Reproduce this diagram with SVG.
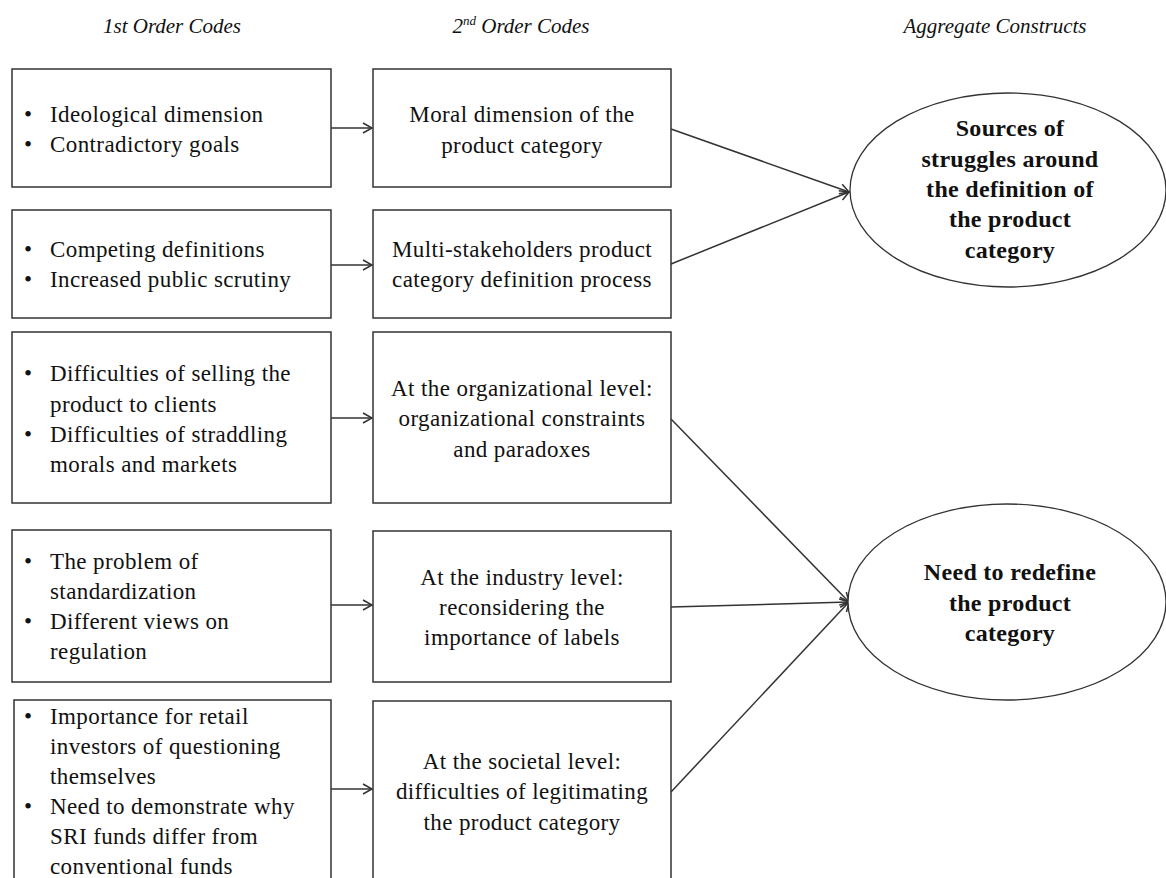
<svg xmlns="http://www.w3.org/2000/svg" width="1166" height="878" viewBox="0 0 1166 878">
<style>
.box{fill:#fff;stroke:#333;stroke-width:1.5}
.ell{fill:#fff;stroke:#333;stroke-width:1.3}
.t{font-family:"Liberation Serif","Times New Roman",serif;font-size:23px;letter-spacing:0.4px;fill:#111}
.c{text-anchor:middle}
.b{font-weight:bold;font-size:24px;letter-spacing:0.3px}
.h{font-family:"Liberation Serif","Times New Roman",serif;font-size:21px;font-style:italic;fill:#111;text-anchor:middle}
.ln{stroke:#333;stroke-width:1.5;fill:none}
</style>
<defs>
<marker id="arr" markerUnits="userSpaceOnUse" markerWidth="12" markerHeight="12" refX="10" refY="6" orient="auto">
<path d="M1,1 L10,6 L1,11" fill="none" stroke="#333" stroke-width="1.5"/>
</marker>
</defs>
<rect width="1166" height="878" fill="#fff"/>
<g id="headers">
<text class="h" x="172" y="33">1st Order Codes</text>
<text class="h" x="521" y="33">2<tspan font-size="13" dy="-8">nd</tspan><tspan dy="8"> Order Codes</tspan></text>
<text class="h" x="995" y="33">Aggregate Constructs</text>
</g>
<g id="connectors">
<line class="ln" x1="331" y1="128" x2="372" y2="128" marker-end="url(#arr)"/>
<line class="ln" x1="331" y1="265" x2="372" y2="265" marker-end="url(#arr)"/>
<line class="ln" x1="331" y1="418" x2="372" y2="418" marker-end="url(#arr)"/>
<line class="ln" x1="331" y1="605" x2="372" y2="605" marker-end="url(#arr)"/>
<line class="ln" x1="331" y1="789" x2="372" y2="789" marker-end="url(#arr)"/>
<line class="ln" x1="671" y1="129" x2="849" y2="192" marker-end="url(#arr)"/>
<line class="ln" x1="671" y1="264" x2="849" y2="192" marker-end="url(#arr)"/>
<line class="ln" x1="671" y1="419" x2="849" y2="602" marker-end="url(#arr)"/>
<line class="ln" x1="671" y1="607" x2="849" y2="602" marker-end="url(#arr)"/>
<line class="ln" x1="671" y1="792" x2="849" y2="602" marker-end="url(#arr)"/>
</g>
<g id="c1r1">
<rect class="box" x="12" y="69" width="319" height="118"/>
<text class="t" x="24" y="122">•</text><text class="t" x="50" y="122">Ideological dimension</text>
<text class="t" x="24" y="152">•</text><text class="t" x="50" y="152">Contradictory goals</text>
</g>
<g id="c2r1">
<rect class="box" x="373" y="69" width="298" height="118"/>
<text class="t c" x="522" y="122">Moral dimension of the</text>
<text class="t c" x="522" y="153">product category</text>
</g>
<g id="c1r2">
<rect class="box" x="12" y="210" width="319" height="108"/>
<text class="t" x="24" y="257">•</text><text class="t" x="50" y="257">Competing definitions</text>
<text class="t" x="24" y="287">•</text><text class="t" x="50" y="287">Increased public scrutiny</text>
</g>
<g id="c2r2">
<rect class="box" x="373" y="210" width="298" height="108"/>
<text class="t c" x="522" y="257">Multi-stakeholders product</text>
<text class="t c" x="522" y="287">category definition process</text>
</g>
<g id="c1r3">
<rect class="box" x="12" y="332" width="319" height="171"/>
<text class="t" x="24" y="381">•</text><text class="t" x="50" y="381">Difficulties of selling the</text>
<text class="t" x="50" y="412">product to clients</text>
<text class="t" x="24" y="442">•</text><text class="t" x="50" y="442">Difficulties of straddling</text>
<text class="t" x="50" y="472">morals and markets</text>
</g>
<g id="c2r3">
<rect class="box" x="373" y="332" width="298" height="171"/>
<text class="t c" x="522" y="396">At the organizational level:</text>
<text class="t c" x="522" y="426">organizational constraints</text>
<text class="t c" x="522" y="457">and paradoxes</text>
</g>
<g id="c1r4">
<rect class="box" x="12" y="530" width="319" height="152"/>
<text class="t" x="24" y="569">•</text><text class="t" x="50" y="569">The problem of</text>
<text class="t" x="50" y="599">standardization</text>
<text class="t" x="24" y="629">•</text><text class="t" x="50" y="629">Different views on</text>
<text class="t" x="50" y="659">regulation</text>
</g>
<g id="c2r4">
<rect class="box" x="373" y="531" width="298" height="151"/>
<text class="t c" x="522" y="585">At the industry level:</text>
<text class="t c" x="522" y="615">reconsidering the</text>
<text class="t c" x="522" y="645">importance of labels</text>
</g>
<g id="c1r5">
<rect class="box" x="14" y="700" width="317" height="190"/>
<text class="t" x="24" y="724">•</text><text class="t" x="50" y="724">Importance for retail</text>
<text class="t" x="50" y="754">investors of questioning</text>
<text class="t" x="50" y="784">themselves</text>
<text class="t" x="24" y="814">•</text><text class="t" x="50" y="814">Need to demonstrate why</text>
<text class="t" x="50" y="844">SRI funds differ from</text>
<text class="t" x="50" y="874">conventional funds</text>
</g>
<g id="c2r5">
<rect class="box" x="373" y="701" width="298" height="190"/>
<text class="t c" x="522" y="769">At the societal level:</text>
<text class="t c" x="522" y="799">difficulties of legitimating</text>
<text class="t c" x="522" y="830">the product category</text>
</g>
<g id="agg1">
<ellipse class="ell" cx="1008" cy="190" rx="158" ry="97"/>
<text class="t c b" x="1010" y="136">Sources of</text>
<text class="t c b" x="1010" y="167">struggles around</text>
<text class="t c b" x="1010" y="197">the definition of</text>
<text class="t c b" x="1010" y="227">the product</text>
<text class="t c b" x="1010" y="258">category</text>
</g>
<g id="agg2">
<ellipse class="ell" cx="1007" cy="602" rx="159" ry="98"/>
<text class="t c b" x="1010" y="580">Need to redefine</text>
<text class="t c b" x="1010" y="611">the product</text>
<text class="t c b" x="1010" y="641">category</text>
</g>
</svg>
